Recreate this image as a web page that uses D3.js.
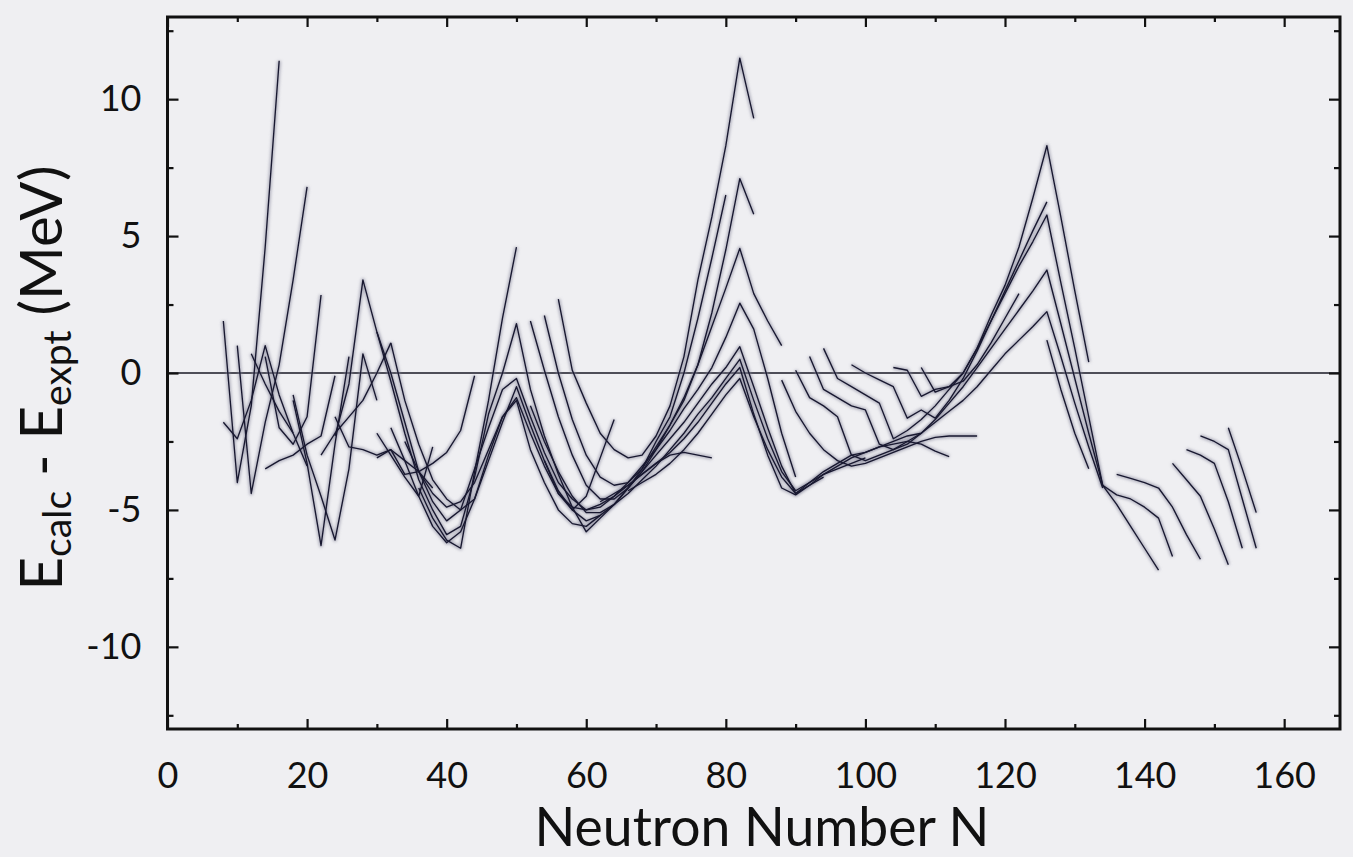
<!DOCTYPE html>
<html><head><meta charset="utf-8">
<script src="https://cdn.jsdelivr.net/npm/d3@7"></script>
<style>
html,body{margin:0;padding:0;background:#efeff2;}
svg{display:block;}
</style></head>
<body><svg id="chart" width="1353" height="857"></svg>
<script>
// ---- data ----
const xMajorTicks = [0, 20, 40, 60, 80, 100, 120, 140, 160];
const xMinorTicks = [10, 30, 50, 70, 90, 110, 130, 150];
const yMajorTicks = [-10, -5, 0, 5, 10];
const yMinorTicks = [-12.5, -7.5, -2.5, 2.5, 7.5, 12.5];
const xTitle = "Neutron Number N";

// each chain: first neutron number, values every 2 neutrons (MeV)
const chainStartN = [
  8, 10, 8, 14, 14, 18, 18, 22, 24, 12,
  36, 30, 24, 32, 34, 30, 30, 32,
  56, 54, 52, 62, 54, 52, 66,
  88, 90, 92, 94, 104, 98, 108, 126,
  136, 144, 146, 148, 152
];
const chainValues = [
  [1.9, -4.0, -1.2, 4.6, 11.4],
  [1.0, -4.4, -1.8, 0.3, 3.4, 6.8],
  [-1.8, -2.4, -1.0, 1.0, -0.8, -2.2, -3.4],
  [0.6, -2.0, -2.6, -1.6, 2.85],
  [-3.5, -3.2, -3.0, -2.6, -2.3, -0.1],
  [-1.0, -3.3, -6.3, -2.6, 0.6],
  [-0.8, -3.0, -4.5, -6.1, -3.5, 0.7, -1.0],
  [-3.0, -2.2, -1.6, -1.0, 0.0, 1.1],
  [-1.6, -2.7, -2.8, -3.0, -2.8, -3.2, -3.6, -4.2],
  [0.7, -0.4, -1.4, -2.2],
  [-4.2, -5.3, -6.1, -6.4, -3.6, -1.0, 2.0, 4.6],
  [1.5, -0.3, -2.2, -3.9, -5.0, -5.9, -5.6, -3.8, -1.5, 0.0, 1.8, -0.6, -2.3, -3.7, -4.9,
   -5.8, -5.3, -4.8, -4.2, -3.6, -2.8, -1.9, -0.9, 0.3, 1.7, 3.1, 4.55, 2.9, 1.9, 1.0],
  [-2.3, -0.4, 3.4, 1.5, 0.0, -1.8, -3.6, -4.7, -5.4, -5.0, -3.5, -2.0, -0.6, -0.2, -1.6,
   -2.9, -4.0, -4.6, -5.0, -4.9, -4.5, -4.0, -3.4, -2.8, -2.1, -1.3, -0.6, 0.2, 1.3, 2.55,
   1.6, -0.2, -2.2, -3.8],
  [1.1, -1.0, -2.6, -3.9, -4.6, -5.0, -4.6, -3.2, -1.8, -0.5, -1.9, -3.2, -4.3, -5.0, -5.4,
   -5.2, -4.8, -4.2, -3.6, -3.0, -2.4, -1.8, -1.1, -0.4, 0.2, 0.96, -0.5, -2.0, -3.4, -4.4,
   -4.0, -3.6, -3.3, -3.0, -2.9, -2.7, -2.6, -2.5, -2.6, -2.85, -3.05],
  [-2.5, -3.6, -4.4, -4.9, -4.7, -4.0, -2.8, -1.6, -0.9, -2.2, -3.4, -4.4, -4.9, -5.0, -4.8,
   -4.5, -4.1, -3.7, -3.3, -2.9, -2.4, -1.8, -1.1, -0.4, 0.2, -1.5, -3.0, -4.2, -4.45, -4.1,
   -3.7, -3.4, -3.1, -2.9, -2.7, -2.5, -2.3, -2.2],
  [-3.1, -2.8, -3.7, -3.6, -3.3, -2.9, -2.1, -0.1],
  [-2.2, -3.0, -3.8, -4.5, -2.7],
  [-2.0, -3.2, -4.5, -5.6, -6.2, -5.8, -4.6, -3.0, -1.6, -1.0, -2.8, -4.0, -5.0, -5.5, -5.6, -5.2],
  [2.7, 0.1, -1.1, -2.2, -2.8, -3.1, -3.0, -2.3, -1.2, 0.6, 3.4, 5.7, 8.3, 11.5, 9.3],
  [2.1, 0.0, -1.7, -3.0, -3.8, -4.1, -4.0, -3.5, -2.5, -1.6, 0.0, 2.0, 4.2, 6.5],
  [1.9, 0.1, -1.6, -3.0, -4.1, -4.6, -4.6, -4.2, -3.5, -2.7, -1.9, -1.0, 0.3, 2.2, 4.5, 7.1, 5.8],
  [-4.7, -4.4, -4.1, -3.7, -3.3, -3.0, -2.9, -3.0, -3.1],
  [-3.2, -4.4, -5.0, -4.5, -3.1, -1.7],
  [-1.2, -2.5, -3.6, -4.5, -5.1, -5.1, -4.8, -4.4, -3.9, -3.4, -2.8, -2.2, -1.5, -0.9, -0.2,
   0.5, -1.0, -2.4, -3.6, -4.3, -4.0, -3.7, -3.5, -3.3, -3.1],
  [-4.3, -4.0, -3.7, -3.3, -2.8, -2.2, -1.5, -0.8, -0.2, -1.6, -2.8, -3.8, -4.4, -4.1, -3.8],
  [-0.26, -1.4, -2.2, -2.8, -3.2, -3.4, -3.3, -3.1, -2.9, -2.7, -2.5, -2.35, -2.3, -2.3, -2.3],
  [0.1, -0.9, -1.2, -1.6, -3.0, -3.2, -3.0, -2.8, -2.5, -2.2, -1.8, -1.4, -1.0, -0.5, 0.1,
   0.7, 1.2, 1.7, 2.24, 0.6, -1.1, -2.7, -4.2],
  [0.6, -0.6, -0.9, -1.2, -1.35, -2.6, -2.8, -2.6, -2.2, -1.7, -1.1, -0.5, 0.2, 0.9, 1.6,
   2.3, 3.0, 3.76, 1.8, -0.2, -2.2, -4.1, -4.45, -4.6, -4.9, -5.3, -6.7],
  [0.9, -0.2, -0.5, -0.8, -1.1, -2.4, -2.1, -1.7, -1.2, -0.6, 0.0, 0.9, 1.9, 2.9, 3.9,
   4.8, 5.77, 3.3, 0.9, -1.6, -4.1, -4.8, -5.6, -6.4, -7.2],
  [0.2, 0.1, -0.85, -0.6, -0.5, 0.0, 0.9, 2.1, 3.2, 4.6, 6.4, 8.3, 5.7, 3.0, 0.4],
  [0.3, 0.0, -0.25, -0.5, -1.65, -1.35, -1.65, -1.0, -0.2, 0.8, 1.9, 3.0, 4.1, 5.2, 6.25],
  [0.2, -0.7, -0.5, -0.3, 0.3, 1.1, 2.0, 2.9],
  [1.2, -0.6, -2.2, -3.5],
  [-3.7, -3.85, -4.0, -4.2, -4.9, -5.9, -6.8],
  [-3.3, -3.9, -4.5, -5.7, -7.0],
  [-2.8, -3.0, -3.3, -4.7, -6.4],
  [-2.3, -2.5, -2.8, -4.6, -6.4],
  [-2.0, -3.5, -5.1]
];

// ---- drawing ----
const svg = d3.select("#chart");
const x = d3.scaleLinear().domain([0, 168]).range([167.5, 1340]);
const y = d3.scaleLinear().domain([-13, 13]).range([729, 17]);
const FONT = "Lato, 'Open Sans', 'DejaVu Sans', sans-serif";

const defs = svg.append("defs");
defs.append("clipPath").attr("id", "clip").append("rect")
  .attr("x", x(0)).attr("y", y(13)).attr("width", x(168) - x(0)).attr("height", y(-13) - y(13));
defs.append("filter").attr("id", "blur").attr("x", "-5%").attr("y", "-5%").attr("width", "110%").attr("height", "110%")
  .append("feGaussianBlur").attr("stdDeviation", 1.7);

const chains = chainStartN.map((n0, i) => chainValues[i].map((v, j) => [n0 + 2 * j, v]));
const line = d3.line().x(d => x(d[0])).y(d => y(d[1]));

const plot = svg.append("g").attr("clip-path", "url(#clip)");

// zero line
plot.append("line")
  .attr("x1", x(0)).attr("x2", x(168)).attr("y1", y(0)).attr("y2", y(0))
  .attr("stroke", "#8e8e98").attr("stroke-width", 5).attr("filter", "url(#blur)");
plot.append("line")
  .attr("x1", x(0)).attr("x2", x(168)).attr("y1", y(0)).attr("y2", y(0))
  .attr("stroke", "#4e4e58").attr("stroke-width", 1.8);

// halos
plot.append("g").attr("filter", "url(#blur)")
  .selectAll("path").data(chains).join("path")
  .attr("d", line).attr("fill", "none")
  .attr("stroke", "#85859a").attr("stroke-opacity", 0.6)
  .attr("stroke-width", 3.8).attr("stroke-linejoin", "round");
// lines
plot.append("g")
  .selectAll("path").data(chains).join("path")
  .attr("d", line).attr("fill", "none")
  .attr("stroke", "#181830").attr("stroke-width", 1.35).attr("stroke-linejoin", "round");

// axes (inward ticks)
function styleAxis(g) {
  g.select(".domain").remove();
  g.selectAll(".tick line").attr("stroke", "#111").attr("stroke-width", 2.2);
  g.selectAll(".tick text").attr("fill", "#111").style("font-family", FONT).style("font-size", "36px");
}
svg.append("g").attr("transform", `translate(0,${y(-13)})`)
  .call(d3.axisBottom(x).tickValues(xMajorTicks).tickSizeInner(-10).tickSizeOuter(0).tickPadding(33).tickFormat(d3.format("d")))
  .call(styleAxis);
svg.append("g").attr("transform", `translate(0,${y(-13)})`)
  .call(d3.axisBottom(x).tickValues(xMinorTicks).tickSizeInner(-5).tickSizeOuter(0).tickFormat(""))
  .call(styleAxis);
svg.append("g").attr("transform", `translate(0,${y(13)})`)
  .call(d3.axisTop(x).tickValues(xMajorTicks).tickSizeInner(-10).tickSizeOuter(0).tickFormat(""))
  .call(styleAxis);
svg.append("g").attr("transform", `translate(0,${y(13)})`)
  .call(d3.axisTop(x).tickValues(xMinorTicks).tickSizeInner(-5).tickSizeOuter(0).tickFormat(""))
  .call(styleAxis);
svg.append("g").attr("transform", `translate(${x(0)},0)`)
  .call(d3.axisLeft(y).tickValues(yMajorTicks).tickSizeInner(-11).tickSizeOuter(0).tickPadding(26).tickFormat(d3.format("d")))
  .call(styleAxis);
svg.append("g").attr("transform", `translate(${x(0)},0)`)
  .call(d3.axisLeft(y).tickValues(yMinorTicks).tickSizeInner(-6).tickSizeOuter(0).tickFormat(""))
  .call(styleAxis);
svg.append("g").attr("transform", `translate(${x(168)},0)`)
  .call(d3.axisRight(y).tickValues(yMajorTicks).tickSizeInner(-11).tickSizeOuter(0).tickFormat(""))
  .call(styleAxis);
svg.append("g").attr("transform", `translate(${x(168)},0)`)
  .call(d3.axisRight(y).tickValues(yMinorTicks).tickSizeInner(-6).tickSizeOuter(0).tickFormat(""))
  .call(styleAxis);
svg.selectAll(".tick text").text(function () { return d3.select(this).text().replace("\u2212", "-"); });

// frame
svg.append("rect")
  .attr("x", x(0)).attr("y", y(13)).attr("width", x(168) - x(0)).attr("height", y(-13) - y(13))
  .attr("fill", "none").attr("stroke", "#111").attr("stroke-width", 3);

// x title
const xt = svg.append("text")
  .attr("x", 762).attr("y", 846).attr("text-anchor", "middle")
  .attr("fill", "#111").style("font-family", FONT).style("font-size", "48px")
  .text(xTitle);
{
  const len = xt.node().getComputedTextLength();
  xt.style("font-size", (48 * 455 / len) + "px");
}

// y title
const yt = svg.append("text")
  .attr("transform", "translate(62,378) rotate(-90)")
  .attr("text-anchor", "middle")
  .attr("fill", "#111").style("font-family", FONT).style("font-size", "46px");
yt.append("tspan").text("E");
yt.append("tspan").attr("dy", 9).style("font-size", "31px").text("calc");
yt.append("tspan").attr("dy", -9).text(" - E");
yt.append("tspan").attr("dy", 9).style("font-size", "31px").text("expt");
yt.append("tspan").attr("dy", -9).text(" (MeV)");
{
  const len = yt.node().getComputedTextLength();
  const s = 425 / len;
  yt.style("font-size", (46 * s) + "px");
  yt.selectAll("tspan").filter(function () { return this.style.fontSize; })
    .style("font-size", (31 * s) + "px");
}
</script>
</body></html>
